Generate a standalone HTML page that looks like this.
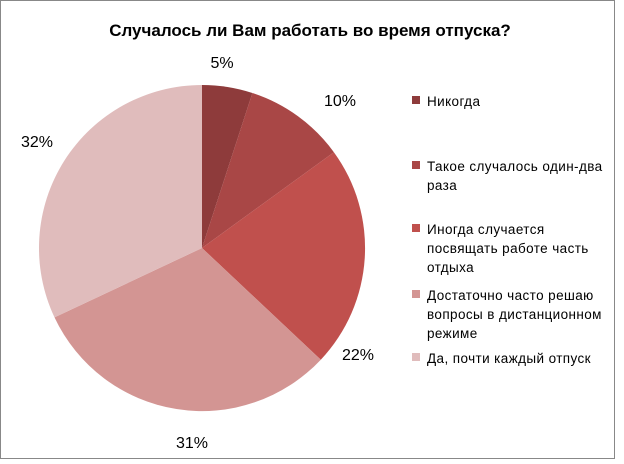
<!DOCTYPE html>
<html><head><meta charset="utf-8"><style>
body{margin:0;background:#fff;}
svg{display:block;font-family:"Liberation Sans","DejaVu Sans",sans-serif;}
</style></head><body>
<svg width="624" height="464" viewBox="0 0 624 464">
<rect x="0.5" y="0.5" width="614" height="458" fill="#fff" stroke="#888"/>
<text x="310" y="36" text-anchor="middle" font-size="17" font-weight="bold" fill="#000">Случалось ли Вам работать во время отпуска?</text>
<g>
<path d="M202,248 L202,85 A163,163 0 0 1 252.4,93 Z" fill="#8E3B3B"/>
<path d="M202,248 L252.4,93 A163,163 0 0 1 333.9,152.2 Z" fill="#A94746"/>
<path d="M202,248 L333.9,152.2 A163,163 0 0 1 320.8,359.7 Z" fill="#C0504D"/>
<path d="M202,248 L320.8,359.7 A163,163 0 0 1 54.5,317.4 Z" fill="#D39593"/>
<path d="M202,248 L54.5,317.4 A163,163 0 0 1 202,85 Z" fill="#E0BCBC"/>
</g>
<g font-size="16" fill="#000" text-anchor="middle">
<text x="222" y="68">5%</text>
<text x="340" y="106">10%</text>
<text x="358" y="360">22%</text>
<text x="192" y="448">31%</text>
<text x="37" y="147">32%</text>
</g>
<g font-size="13.5" fill="#000" letter-spacing="0.4">
<rect x="412" y="96" width="8" height="8" fill="#8E3B3B"/>
<text x="427" y="106">Никогда</text>
<rect x="412" y="161" width="8" height="8" fill="#A94746"/>
<text x="427" y="171">Такое случалось один-два</text>
<text x="427" y="190">раза</text>
<rect x="412" y="224" width="8" height="8" fill="#C0504D"/>
<text x="427" y="234">Иногда случается</text>
<text x="427" y="253">посвящать работе часть</text>
<text x="427" y="272">отдыха</text>
<rect x="412" y="290" width="8" height="8" fill="#D39593"/>
<text x="427" y="300">Достаточно часто решаю</text>
<text x="427" y="319">вопросы в дистанционном</text>
<text x="427" y="338">режиме</text>
<rect x="412" y="353" width="8" height="8" fill="#E0BCBC"/>
<text x="427" y="363">Да, почти каждый отпуск</text>
</g>
</svg>
</body></html>
